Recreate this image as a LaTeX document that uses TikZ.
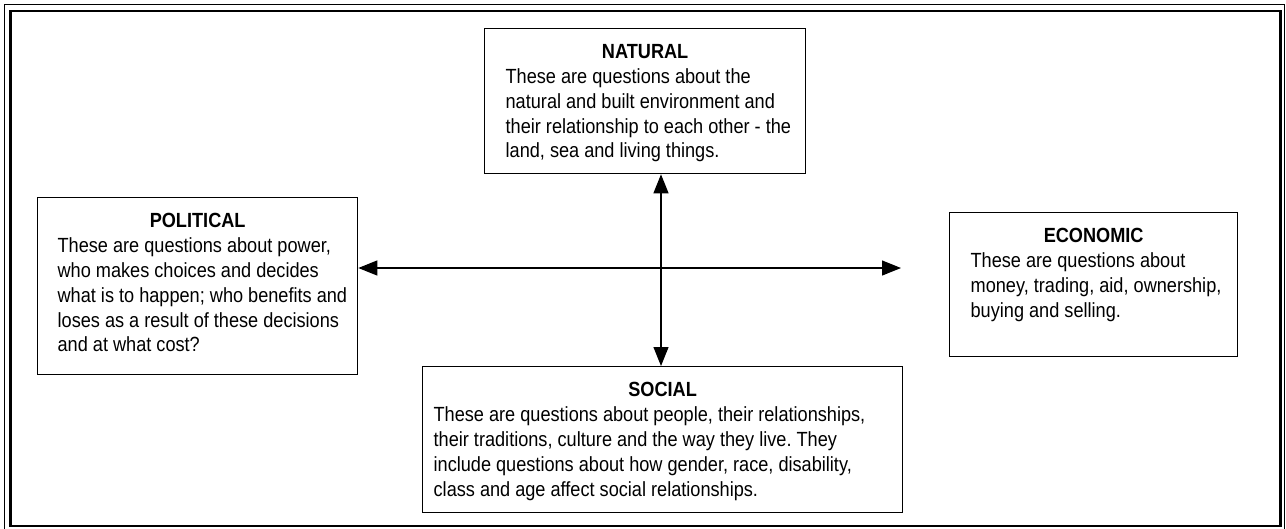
\documentclass[tikz,border=0pt]{standalone}
\usepackage{fontspec}
\setmainfont{Liberation Sans}[FakeStretch=0.885]
\usetikzlibrary{arrows.meta, calc}
\frenchspacing

% box text: width, height, left indent, heading, lines
\newcommand{\question}[5]{%
  \parbox[c][#2][t]{#1}{\fontsize{20.5}{24.8}\selectfont
    \vspace*{16pt}%
    {\centering\textbf{#4}\par}%
    \raggedright\leftskip=#3\relax #5\par}}

\tikzset{
  card/.style={draw, line width=1.3pt, inner sep=0pt, anchor=north west},
  link/.style={{Triangle[length=19pt, width=15pt]}-{Triangle[length=19pt, width=15pt]}, line width=1.2pt},
  frame/.style={line width=1.3pt}
}

\begin{document}
\begin{tikzpicture}[x=1pt, y=-1pt]
\useasboundingbox (0,0) rectangle (1286,528);
% double page frame
\draw[frame] (4.5,4.5) rectangle (1284.5,534);
\draw[frame, line width=2.4pt] (10.5,11) rectangle (1280.5,526);

\node[card] (natural) at (484,28) {\question{321pt}{145pt}{21pt}{NATURAL}{%
  These are questions about the\\
  natural and built environment and\\
  their relationship to each other - the\\
  land, sea and living things.}};
\node[card] (political) at (37,197) {\question{320pt}{177pt}{20pt}{POLITICAL}{%
  These are questions about power,\\
  who makes choices and decides\\
  what is to happen; who benefits and\\
  loses as a result of these decisions\\
  and at what cost?}};
\node[card] (economic) at (949,212) {\question{288pt}{144pt}{21pt}{ECONOMIC}{%
  These are questions about\\
  money, trading, aid, ownership,\\
  buying and selling.}};
\node[card] (social) at (422,366) {\question{480pt}{146pt}{11pt}{SOCIAL}{%
  These are questions about people, their relationships,\\
  their traditions, culture and the way they live. They\\
  include questions about how gender, race, disability,\\
  class and age affect social relationships.}};

% the two axes
\coordinate (hub) at (661,268);
\coordinate (reach) at (901,268);
\draw[link] (political.east |- hub) -- (reach);
\draw[link] (natural.south -| hub) -- (social.north -| hub);
\end{tikzpicture}
\end{document}
